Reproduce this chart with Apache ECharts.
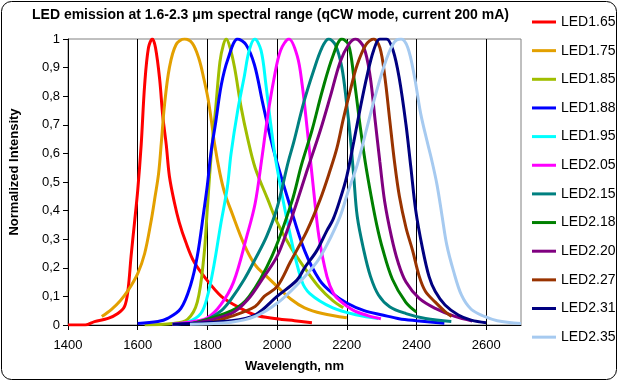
<!DOCTYPE html>
<html>
<head>
<meta charset="utf-8">
<script src="https://cdn.jsdelivr.net/npm/echarts@6/dist/echarts.min.js"></script>
<style>
html,body{margin:0;padding:0;background:#fff;}
#chart{width:619px;height:381px;}
</style>
</head>
<body>
<div id="chart"></div>
<script>
// ---- data (wavelength nm, normalized intensity) ----
const seriesNames = ['LED1.65','LED1.75','LED1.85','LED1.88','LED1.95','LED2.05','LED2.15','LED2.18','LED2.20','LED2.27','LED2.31','LED2.35'];

const led165 = [[1400,0],[1450,0],[1476,0.012],[1515,0.023],[1543,0.04],[1562,0.064],[1572,0.12],[1581,0.24],[1591,0.36],[1600,0.47],[1610,0.63],[1620,0.84],[1631,0.97],[1642,1.0],[1651,0.97],[1663,0.86],[1672,0.73],[1682,0.63],[1691,0.52],[1705,0.43],[1719,0.36],[1738,0.29],[1762,0.22],[1800,0.155],[1840,0.1],[1878,0.07],[1937,0.035],[2000,0.022],[2050,0.015],[2100,0.008]];
const led175 = [[1497,0.03],[1525,0.055],[1550,0.085],[1572,0.12],[1600,0.18],[1620,0.25],[1638,0.36],[1650,0.45],[1660,0.53],[1668,0.64],[1677,0.77],[1691,0.9],[1710,0.98],[1734,1.0],[1757,0.985],[1776,0.93],[1790,0.86],[1802,0.79],[1812,0.71],[1821,0.63],[1836,0.53],[1850,0.46],[1868,0.4],[1906,0.28],[1937,0.21],[1970,0.17],[2000,0.135],[2040,0.09],[2079,0.06],[2130,0.04],[2200,0.025]];
const led185 = [[1620,0],[1700,0.005],[1743,0.02],[1771,0.08],[1790,0.24],[1800,0.41],[1810,0.58],[1824,0.76],[1836,0.92],[1846,0.98],[1854,1.0],[1865,0.97],[1878,0.9],[1897,0.76],[1916,0.65],[1937,0.55],[1973,0.44],[2000,0.36],[2040,0.27],[2079,0.2],[2122,0.13],[2160,0.085],[2190,0.06]];
const led188 = [[1600,0.005],[1658,0.012],[1686,0.023],[1724,0.058],[1752,0.14],[1771,0.24],[1790,0.4],[1800,0.49],[1810,0.6],[1824,0.71],[1840,0.84],[1859,0.93],[1887,1.0],[1911,0.98],[1935,0.91],[1958,0.78],[1980,0.66],[1997,0.58],[2035,0.425],[2079,0.26],[2122,0.157],[2160,0.11],[2200,0.077],[2250,0.05],[2302,0.035],[2350,0.022],[2400,0.015],[2480,0.006]];
const led195 = [[1700,0.003],[1743,0.01],[1781,0.04],[1800,0.1],[1819,0.21],[1838,0.35],[1857,0.48],[1868,0.6],[1887,0.75],[1906,0.87],[1920,0.96],[1936,1.0],[1954,0.96],[1968,0.84],[1982,0.7],[1997,0.57],[2035,0.33],[2070,0.157],[2094,0.11],[2160,0.06],[2230,0.035],[2290,0.023]];
const led205 = [[1700,0.003],[1760,0.012],[1800,0.025],[1838,0.07],[1875,0.15],[1913,0.31],[1937,0.425],[1956,0.58],[1973,0.73],[1991,0.86],[2010,0.96],[2034,1.0],[2058,0.94],[2072,0.84],[2086,0.69],[2105,0.47],[2120,0.31],[2143,0.17],[2162,0.11],[2180,0.085],[2218,0.052],[2260,0.033],[2298,0.022]];
const led215 = [[1750,0.005],[1800,0.02],[1840,0.05],[1868,0.09],[1906,0.16],[1937,0.23],[1970,0.31],[2000,0.41],[2032,0.57],[2048,0.64],[2077,0.78],[2105,0.89],[2129,0.97],[2148,1.0],[2167,0.98],[2186,0.9],[2200,0.77],[2210,0.66],[2220,0.52],[2230,0.38],[2249,0.26],[2268,0.17],[2291,0.105],[2323,0.064],[2370,0.04],[2426,0.023],[2500,0.012]];
const led218 = [[1750,0.003],[1870,0.05],[1920,0.1],[1985,0.24],[2042,0.43],[2070,0.56],[2100,0.68],[2130,0.82],[2160,0.94],[2186,1.0],[2205,0.98],[2220,0.87],[2239,0.69],[2253,0.57],[2270,0.45],[2286,0.35],[2302,0.27],[2331,0.16],[2369,0.08],[2400,0.045]];
const led220 = [[1750,0.003],[1868,0.04],[1915,0.087],[1963,0.17],[2000,0.24],[2029,0.33],[2057,0.43],[2086,0.54],[2124,0.68],[2153,0.8],[2181,0.92],[2205,0.98],[2225,1.0],[2249,0.97],[2267,0.87],[2281,0.72],[2295,0.57],[2309,0.43],[2328,0.31],[2347,0.22],[2370,0.15],[2408,0.093],[2454,0.058],[2510,0.03],[2560,0.014]];
const led227 = [[1800,0.005],[1868,0.03],[1937,0.065],[1963,0.1],[2000,0.134],[2038,0.22],[2086,0.33],[2124,0.44],[2152,0.54],[2172,0.62],[2190,0.72],[2210,0.82],[2230,0.91],[2255,0.98],[2277,1.0],[2295,0.97],[2309,0.87],[2323,0.72],[2337,0.57],[2351,0.45],[2370,0.34],[2389,0.26],[2408,0.17],[2426,0.117],[2454,0.08],[2482,0.047],[2501,0.03]];
const led231 = [[1700,0.003],[1868,0.015],[1937,0.035],[2000,0.1],[2057,0.157],[2079,0.2],[2114,0.26],[2143,0.33],[2161,0.37],[2181,0.44],[2200,0.52],[2220,0.64],[2239,0.76],[2258,0.87],[2277,0.96],[2295,1.0],[2314,1.0],[2333,0.96],[2351,0.86],[2370,0.7],[2384,0.55],[2398,0.4],[2417,0.27],[2436,0.17],[2454,0.117],[2482,0.07],[2520,0.035],[2557,0.017],[2600,0.008]];
const led235 = [[1750,0.003],[1868,0.01],[1937,0.03],[2000,0.076],[2057,0.14],[2114,0.22],[2143,0.28],[2181,0.38],[2202,0.46],[2230,0.56],[2258,0.69],[2286,0.82],[2314,0.93],[2337,0.99],[2356,1.0],[2375,0.97],[2394,0.87],[2412,0.74],[2431,0.64],[2445,0.57],[2459,0.49],[2473,0.385],[2487,0.28],[2506,0.19],[2529,0.105],[2557,0.055],[2595,0.03],[2632,0.015],[2700,0.005]];

const seriesData = [led165,led175,led185,led188,led195,led205,led215,led218,led220,led227,led231,led235];

// ---- styles ----
const seriesColors = ['#FF0000','#E3A000','#A0BE00','#0000FF','#00FFFF','#FF00FF','#008080','#008000','#800080','#993300','#000080','#A6CAF0'];

const chart = echarts.init(document.getElementById('chart'), null, {renderer:'canvas'});
const FONT = 'Arial, "Liberation Sans", sans-serif';

const option = {
  backgroundColor: '#fff',
  animation: false,
  title: {
    text: 'LED emission at 1.6-2.3 \u03bcm spectral range (qCW mode, current 200 mA)',
    left: 27, top: 3,
    textStyle: {fontFamily: FONT, fontSize: 14, fontWeight: 'bold', color: '#000'}
  },
  legend: {
    orient: 'vertical',
    left: 527, top: 10,
    icon: 'rect',
    itemWidth: 24, itemHeight: 3, itemGap: 14.65,
    textStyle: {fontFamily: FONT, fontSize: 14, color: '#000', height: 14, lineHeight: 14},
    data: seriesNames
  },
  grid: {
    left: 66, top: 39, width: 455, height: 286,
    show: true, borderColor: '#808080', borderWidth: 1, backgroundColor: 'transparent'
  },
  xAxis: {
    type: 'value', min: 1400, max: 2700, interval: 200,
    name: 'Wavelength, nm', nameLocation: 'middle', nameGap: 35,
    nameTextStyle: {fontFamily: FONT, fontSize: 13, fontWeight: 'bold', color: '#000'},
    axisLine: {show: true, lineStyle: {color: '#000', width: 1}},
    axisTick: {show: true, inside: false, length: 5, lineStyle: {color: '#000'}},
    axisLabel: {
      fontFamily: FONT, fontSize: 13, color: '#000', margin: 14,
      showMaxLabel: false,
      formatter: v => (v % 200 === 0 ? String(v) : '')
    },
    splitLine: {show: true, showMaxLine: false, lineStyle: {color: '#000', width: 1}}
  },
  yAxis: {
    type: 'value', min: 0, max: 1, interval: 0.1,
    name: 'Normalized Intensity', nameLocation: 'middle', nameGap: 47, nameRotate: 90,
    nameTextStyle: {fontFamily: FONT, fontSize: 13, fontWeight: 'bold', color: '#000', padding: [0,0,0,20]},
    axisLine: {show: true, lineStyle: {color: '#000', width: 1}},
    axisTick: {show: true, inside: false, length: 5, lineStyle: {color: '#000'}},
    axisLabel: {
      fontFamily: FONT, fontSize: 13, color: '#000', margin: 8,
      formatter: v => String(Math.round(v * 10) / 10).replace('.', ',')
    },
    splitLine: {show: false}
  },
  graphic: [{
    type: 'rect', silent: true, z: 100,
    shape: {x: 1.5, y: 1.5, width: 615, height: 378, r: 10},
    style: {fill: 'none', stroke: '#000', lineWidth: 1}
  }],
  series: seriesNames.map((n, i) => ({
    name: n, type: 'line', data: seriesData[i],
    showSymbol: false, symbol: 'none', smooth: 0.35,
    lineStyle: {color: seriesColors[i], width: 3},
    itemStyle: {color: seriesColors[i]},
    clip: true
  }))
};
chart.setOption(option);
</script>
</body>
</html>
